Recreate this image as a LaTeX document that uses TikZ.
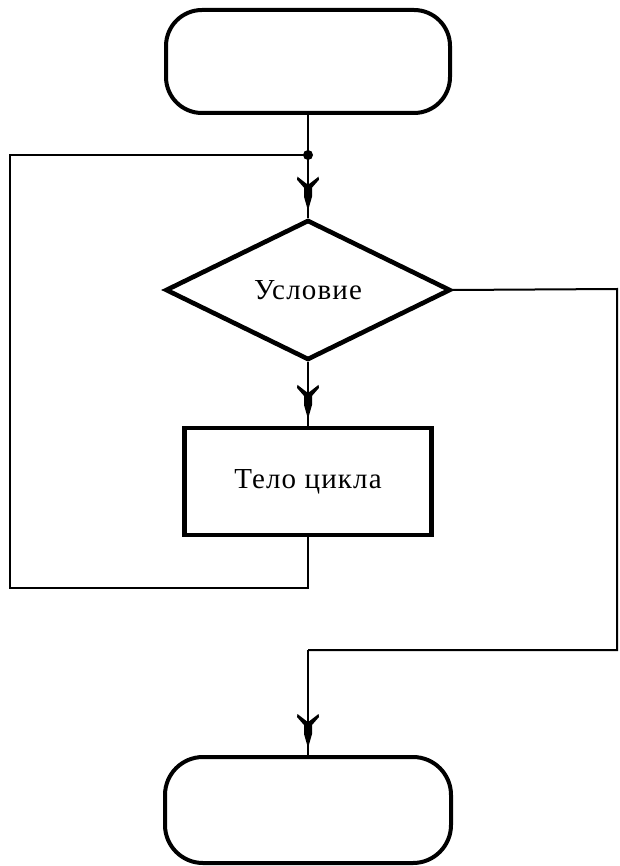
\documentclass[tikz,border=0pt]{standalone}
\usepackage{fontspec}
\setmainfont{Liberation Serif}
\usetikzlibrary{shapes.geometric,decorations.markings}
\tikzset{
  labelfont/.style={font=\fontsize{29}{32}\selectfont\addfontfeatures{LetterSpace=4}},
  terminal/.style={draw, line width=4pt, rectangle, rounded corners=36pt, minimum width=284pt, minimum height=103pt, inner sep=0pt},
  decision/.style={draw, line width=4.6pt, diamond, shape aspect=2.04, minimum width=285pt, minimum height=140pt, inner sep=0pt, labelfont},
  process/.style={draw, line width=4.2pt, rectangle, minimum width=247pt, minimum height=107pt, inner sep=0pt, labelfont},
  conn/.style={line width=2pt},
  midarrow/.style={decoration={markings, mark=at position -7pt with {
      \fill (0pt,0pt) -- (-14pt,4pt) -- (-23pt,4pt) -- (-31pt,11pt) -- (-34pt,10.5pt) -- (-27pt,1.5pt) -- (-27pt,-1.5pt) -- (-34pt,-10.5pt) -- (-31pt,-11pt) -- (-23pt,-4pt) -- (-14pt,-4pt) -- cycle;}}, postaction={decorate}},
  dot/.style={circle, fill, inner sep=0pt, minimum size=10pt}
}
\begin{document}
\begin{tikzpicture}[x=1pt, y=-1pt]
\useasboundingbox[fill=white] (0,0) rectangle (619,866);
\node[terminal] (start) at (308,61.5) {};
\node[decision] (cond) at (308,290) {Условие};
\node[process] (body) at (308,481.5) {Тело цикла};
\node[terminal, rounded corners=38pt, minimum width=286pt, minimum height=106pt] (end) at (308,810) {};
\node[dot] (j) at (308,155) {};
\coordinate (lb) at (308,588);
\coordinate (ll) at (10,588);
\coordinate (lt) at (10,155);
\coordinate (rt) at (617,289);
\coordinate (rb) at (617,650);
\coordinate (eb) at (308,650);
\draw[conn, line width=2.4pt] (start.south) -- (j.center);
\draw[conn, line width=2.4pt, midarrow] (j.center) -- (cond.north);
\draw[conn, line width=2.4pt, midarrow] (cond.south) -- (body.north);
\draw[conn] (body.south) -- (lb) -- (ll) -- (lt) -- (j.center);
\draw[conn] (cond.east) -- (rt) -- (rb) -- (eb);
\draw[conn, line width=2.4pt, midarrow] (eb) -- (end.north);
\end{tikzpicture}
\end{document}
